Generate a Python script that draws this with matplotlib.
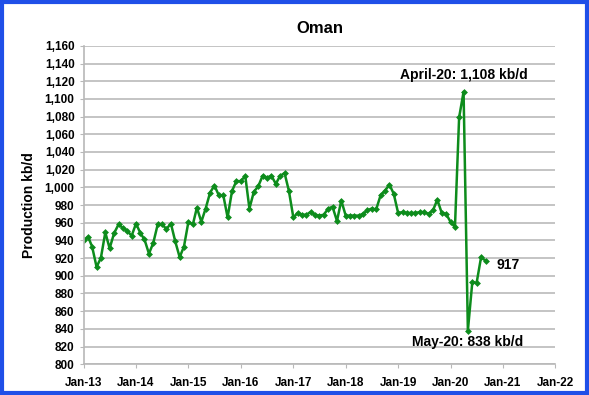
import numpy as np
import pandas as pd
import matplotlib
matplotlib.use("Agg")
import matplotlib.pyplot as plt
import matplotlib.dates as mdates
from matplotlib.patches import Rectangle
from matplotlib.ticker import FuncFormatter

plt.rcParams['font.family'] = ['Liberation Sans', 'DejaVu Sans']
plt.rcParams['font.weight'] = 'bold'

# monthly Oman production, kb/d, Jan-13 .. Sep-20
prod_2013 = [940, 944, 933, 910, 920, 949, 931, 948, 958, 954, 951, 945]
prod_2014 = [959, 948, 941, 925, 937, 958, 958, 953, 959, 939, 921, 933]
prod_2015 = [961, 958, 977, 961, 976, 994, 1002, 991, 991, 966, 996, 1007]
prod_2016 = [1007, 1013, 976, 995, 1001, 1013, 1011, 1013, 1004, 1013, 1016, 996]
prod_2017 = [966, 971, 969, 969, 972, 969, 968, 969, 976, 978, 962, 985]
prod_2018 = [968, 968, 968, 968, 970, 974, 976, 975, 991, 996, 1003, 993]
prod_2019 = [971, 972, 971, 971, 971, 972, 972, 970, 974, 986, 971, 970]
prod_2020 = [961, 955, 1079, 1108, 838, 893, 892, 921, 917]

production = (prod_2013 + prod_2014 + prod_2015 + prod_2016 +
              prod_2017 + prod_2018 + prod_2019 + prod_2020)
months = pd.date_range("2013-01-01", periods=len(production), freq="MS")

fig = plt.figure(figsize=(5.89, 3.95), dpi=100)
ax = fig.add_axes([0.142, 0.078, 0.801, 0.806])

ax.plot(months, production, color="#0d8c1c", lw=1.8, marker="D", ms=3.5,
        markeredgewidth=0)

ax.set_xlim(pd.Timestamp("2013-01-01"), pd.Timestamp("2022-01-01"))
ax.set_ylim(800, 1160)
ax.set_yticks(np.arange(800, 1161, 20))
ax.yaxis.set_major_formatter(FuncFormatter(lambda v, p: f"{int(v):,}"))
ax.xaxis.set_major_locator(mdates.YearLocator())
ax.xaxis.set_major_formatter(mdates.DateFormatter("%b-%y"))

ax.grid(axis="y", color="#c4c4c4", lw=1.4)
ax.set_axisbelow(True)
for s in ["top", "right"]:
    ax.spines[s].set_visible(False)
for s in ["left", "bottom"]:
    ax.spines[s].set_color("#b8b8b8")
    ax.spines[s].set_linewidth(1.2)
ax.tick_params(axis="both", colors="#b8b8b8", labelcolor="black",
               labelsize=8.5, length=3)
ax.tick_params(axis="x", pad=6)

ax.set_title("Oman", fontsize=12, fontweight="bold", pad=9)
ax.set_ylabel("Production kb/d", fontsize=10, fontweight="bold", labelpad=6)

ax.text(pd.Timestamp("2020-04-01"), 1127, "April-20: 1,108 kb/d",
        ha="center", va="center", fontsize=10, fontweight="bold")
ax.text(pd.Timestamp("2020-05-01"), 825, "May-20: 838 kb/d",
        ha="center", va="center", fontsize=10, fontweight="bold")
ax.text(pd.Timestamp("2020-11-15"), 912, "917",
        ha="left", va="center", fontsize=10, fontweight="bold")

fig.patches.append(Rectangle((0.003, 0.004), 0.994, 0.992, transform=fig.transFigure,
                             fill=False, edgecolor="#1f4fe8", lw=3))

fig.savefig("out.png", dpi=100)
